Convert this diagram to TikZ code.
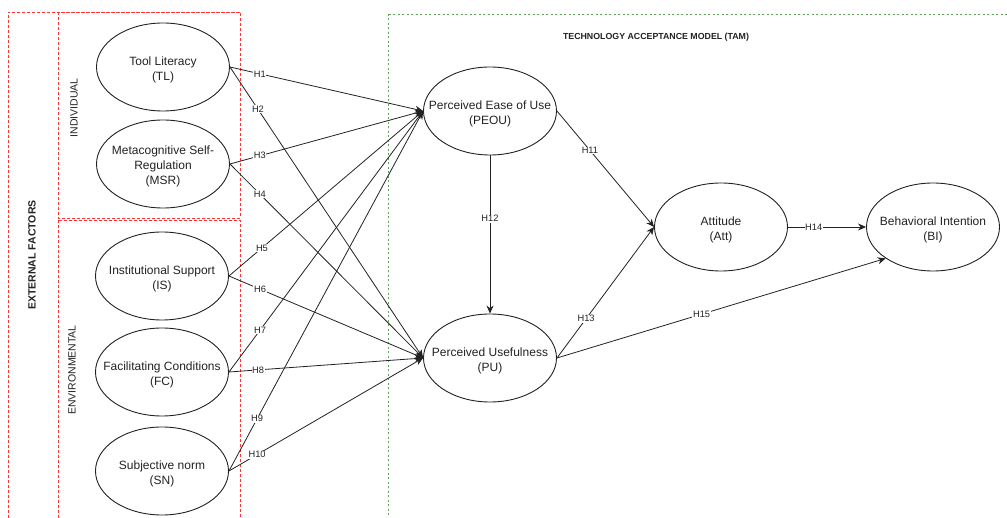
\documentclass[tikz,border=0pt]{standalone}
\usepackage{fontspec}
\setmainfont{Liberation Sans}
\usetikzlibrary{shapes.geometric,arrows.meta}
\definecolor{ink}{HTML}{222222}
\definecolor{redbox}{HTML}{FF3333}
\definecolor{greenbox}{HTML}{5FA35F}
\tikzset{
  ell/.style={draw=ink,line width=0.9pt,ellipse,minimum width=133pt,minimum height=88pt,inner sep=0pt},
  etxt/.style={align=center,font=\fontsize{12pt}{15pt}\selectfont,text=ink,inner sep=0pt,yshift=-2.5pt},
  edge/.style={draw=ink,line width=0.8pt,-{Stealth[length=8pt,width=7pt]}},
  hl/.style={fill=white,inner sep=0.6pt,font=\fontsize{9.3pt}{10pt}\selectfont,text=ink},
  redd/.style={draw=redbox,line width=0.8pt,dash pattern=on 3pt off 2pt},
  greend/.style={draw=greenbox,line width=0.8pt,dash pattern=on 2pt off 2.5pt},
  sidelab/.style={rotate=90,font=\fontsize{10.5pt}{12pt}\selectfont,text=ink,inner sep=0pt},
}
\begin{document}
\begin{tikzpicture}[x=1pt,y=-1pt]
\useasboundingbox (0,0) rectangle (1007,518);
\clip (0,0) rectangle (1007,518);
% group boxes
\draw[redd] (240,12) -- (8,12) -- (8,540);
\draw[redd] (58,12) rectangle (240,218);
\draw[redd] (58,220) rectangle (240,540);
\draw[greend] (388,14) rectangle (1040,540);
\node[sidelab,font=\fontsize{10.5pt}{12pt}\selectfont\bfseries] (ext) at (32,255) {EXTERNAL FACTORS};
\node[sidelab] (ind) at (74,108) {INDIVIDUAL};
\node[sidelab] (env) at (72,370) {ENVIRONMENTAL};
\node[font=\fontsize{8.8pt}{10pt}\selectfont\bfseries,text=ink,inner sep=0pt] (tam) at (656,37) {TECHNOLOGY ACCEPTANCE MODEL (TAM)};
% ellipses
\node[ell] (TL) at (163,67) {};
\node[etxt] (tTL) at (TL) {Tool Literacy\\(TL)};
\node[ell] (MSR) at (163,164) {};
\node[etxt] (tMSR) at (MSR) {Metacognitive Self-\\Regulation\\(MSR)};
\node[ell] (IS) at (162,276) {};
\node[etxt] (tIS) at (IS) {Institutional Support\\(IS)};
\node[ell] (FC) at (162,372) {};
\node[etxt] (tFC) at (FC) {Facilitating Conditions\\(FC)};
\node[ell] (SN) at (162,471) {};
\node[etxt] (tSN) at (SN) {Subjective norm\\(SN)};
\node[ell] (PEOU) at (490,111) {};
\node[etxt] (tPEOU) at (PEOU) {Perceived Ease of Use\\(PEOU)};
\node[ell] (PU) at (490,358) {};
\node[etxt] (tPU) at (PU) {Perceived Usefulness\\(PU)};
\node[ell] (ATT) at (721,227) {};
\node[etxt] (tATT) at (ATT) {Attitude\\(Att)};
\node[ell] (BI) at (933,227) {};
\node[etxt] (tBI) at (BI) {Behavioral Intention\\(BI)};
% connectors
\draw[edge] (TL.east) -- node[hl,pos=0.155] {H1} (PEOU.west);
\draw[edge] (TL.east) -- node[hl,pos=0.145] {H2} (PU.west);
\draw[edge] (MSR.east) -- node[hl,pos=0.155] {H3} (PEOU.west);
\draw[edge] (MSR.east) -- node[hl,pos=0.155] {H4} (PU.west);
\draw[edge] (IS.east) -- node[hl,pos=0.17] {H5} (PEOU.west);
\draw[edge] (IS.east) -- node[hl,pos=0.16] {H6} (PU.west);
\draw[edge] (FC.east) -- node[hl,pos=0.16] {H7} (PEOU.west);
\draw[edge] (FC.east) -- node[hl,pos=0.15] {H8} (PU.west);
\draw[edge] (SN.east) -- node[hl,pos=0.145] {H9} (PEOU.west);
\draw[edge] (SN.east) -- node[hl,pos=0.145] {H10} (PU.west);
\draw[edge] (PEOU.east) -- node[hl,pos=0.34] {H11} (ATT.west);
\draw[edge] (PEOU.south) -- node[hl,pos=0.4] {H12} (PU.north);
\draw[edge] (PU.east) -- node[hl,pos=0.3] {H13} (ATT.west);
\draw[edge] (ATT.east) -- node[hl,pos=0.33] {H14} (BI.west);
\draw[edge] (PU.east) -- node[hl,pos=0.44] {H15} (BI.south west);
\end{tikzpicture}
\end{document}
